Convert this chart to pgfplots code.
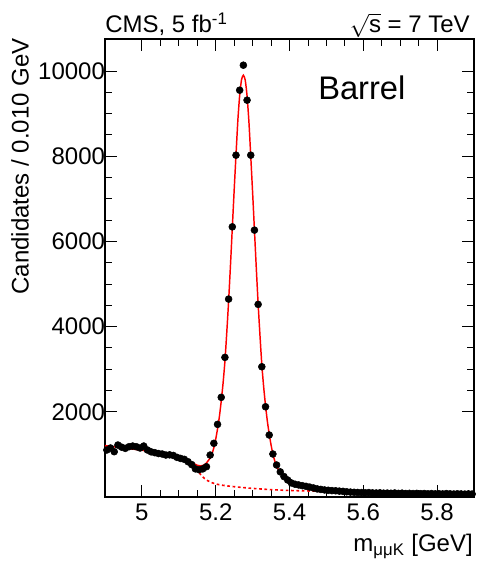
\documentclass[border=0pt]{standalone}
\usepackage{pgfplots}
\pgfplotsset{compat=1.18}
\usepackage{fontspec}
\setmainfont{Liberation Sans}
\begin{document}
\begin{tikzpicture}
\path[use as bounding box] (-78.75pt,-52.5pt) rectangle (281.25pt,372.75pt);
\begin{axis}[
  name=ax, at={(0,0)}, anchor=south west,
  scale only axis, width=276.75pt, height=343.5pt,
  xmin=4.9, xmax=5.9, ymin=0, ymax=10750,
  xtick={5,5.2,5.4,5.6,5.8}, minor x tick num=3,
  ytick={2000,4000,6000,8000,10000}, minor y tick num=3,
  scaled y ticks=false, scaled x ticks=false,
  tick align=inside, major tick length=9pt, minor tick length=5pt,
  tick style={black, line width=0.6pt},
  axis line style={line width=0.8pt},
  ticklabel style={font=\fontsize{18}{21}\selectfont},
  /pgf/number format/assume math mode=true,
  /pgf/number format/1000 sep={},
  xticklabel style={yshift=-1.5pt},
  yticklabel style={xshift=3.5pt},
]
\addplot[only marks, mark=*, mark size=2.6pt, black] table {
4.905 1103
4.915 1150
4.925 1063
4.935 1220
4.945 1170
4.955 1142
4.965 1180
4.975 1196
4.985 1180
4.995 1150
5.005 1196
5.015 1103
5.025 1060
5.035 1040
5.045 1020
5.055 1009
5.065 985
5.075 990
5.085 975
5.095 931
5.105 905
5.115 884
5.125 828
5.135 760
5.145 660
5.155 640
5.165 660
5.175 711
5.185 985
5.195 1260
5.205 1705
5.215 2339
5.225 3277
5.235 4645
5.245 6341
5.255 8023
5.265 9548
5.275 10135
5.285 9314
5.295 8023
5.305 6264
5.315 4521
5.325 3057
5.335 2118
5.345 1455
5.355 1009
5.365 751
5.375 590
5.385 480
5.395 399
5.405 330
5.415 300
5.425 282
5.435 265
5.445 250
5.455 232
5.465 212
5.475 190
5.485 178
5.495 165
5.505 158
5.515 150
5.525 146
5.535 138
5.545 132
5.555 122
5.565 115
5.575 110
5.585 106
5.595 103
5.605 100
5.615 104
5.625 96
5.635 94
5.645 98
5.655 90
5.665 92
5.675 88
5.685 94
5.695 85
5.705 90
5.715 82
5.725 86
5.735 80
5.745 84
5.755 78
5.765 82
5.775 76
5.785 80
5.795 74
5.805 78
5.815 72
5.825 80
5.835 75
5.845 70
5.855 76
5.865 72
5.875 68
5.885 74
5.895 70
};
\addplot[red, line width=1.2pt, dash pattern=on 2pt off 2pt, smooth] table {
4.90 1205
4.95 1150
5.00 1100
5.05 1040
5.08 990
5.10 945
5.12 868
5.13 815
5.14 740
5.15 630
5.16 520
5.17 430
5.18 375
5.19 335
5.20 305
5.22 274
5.25 242
5.30 202
5.35 173
5.40 153
5.45 142
5.50 130
5.55 120
5.60 110
5.70 95
5.80 82
5.90 72
};
\addplot[red, line width=1.1pt, smooth, tension=0.4] table {
4.90 1205
4.95 1150
5.00 1100
5.05 1040
5.08 990
5.10 945
5.12 868
5.13 820
5.14 790
5.145 765
5.15 745
5.155 735
5.16 730
5.165 742
5.17 760
5.175 800
5.18 855
5.185 914
5.19 1015
5.195 1157
5.20 1355
5.205 1601
5.21 1888
5.215 2251
5.22 2674
5.225 3188
5.23 3862
5.235 4597
5.24 5432
5.245 6312
5.25 7192
5.255 8027
5.26 8832
5.265 9428
5.27 9794
5.275 9900
5.28 9786
5.285 9413
5.29 8809
5.295 7996
5.30 7152
5.305 6264
5.31 5376
5.315 4533
5.32 3790
5.325 3107
5.33 2584
5.335 2151
5.34 1778
5.345 1481
5.35 1223
5.355 1009
5.36 848
5.365 726
5.37 644
5.375 582
5.38 530
5.385 478
5.39 437
5.395 395
5.40 363
5.41 310
5.42 273
5.43 248
5.44 232
5.45 219
5.475 186
5.50 165
5.55 132
5.60 113
5.70 95
5.80 82
5.90 72
};
\end{axis}
\node[anchor=base west, inner sep=0, font=\fontsize{18}{21}\selectfont] at (0pt,348pt) {CMS, 5 fb\textsuperscript{-1}};
\node[anchor=base east, inner sep=0, font=\fontsize{18}{21}\selectfont] at (273.75pt,348pt) {$\sqrt{\mbox{s}}$ = 7 TeV};
\node[anchor=west, inner sep=0, font=\fontsize{24.5}{28}\selectfont] at (159.75pt,306.75pt) {Barrel};
\node[anchor=base east, inner sep=0, font=\fontsize{18}{21}\selectfont] at (276pt,-41.25pt) {m\textsubscript{μμK} [GeV]};
\node[rotate=90, anchor=east, inner sep=0, font=\fontsize{18}{21}\selectfont] at (-63.75pt,344.25pt) {Candidates / 0.010 GeV};
\end{tikzpicture}
\end{document}
